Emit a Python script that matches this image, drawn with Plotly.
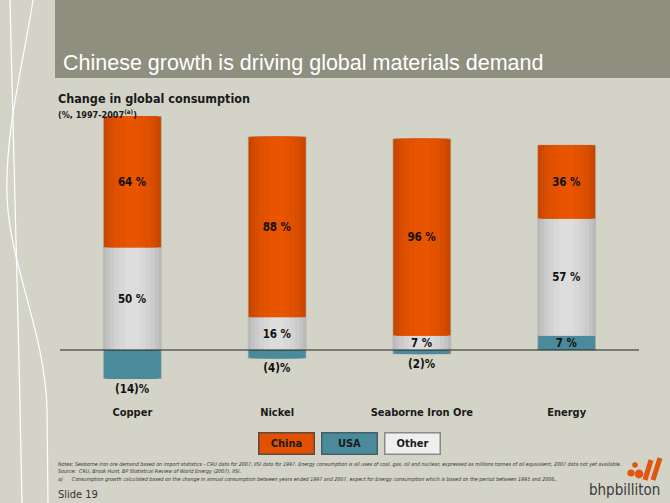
import plotly.graph_objects as go

# ---------------- data ----------------
categories = ["Copper", "Nickel", "Seaborne Iron Ore", "Energy"]
series_names = ["USA", "Other", "China"]
usa_values = [-14, -4, -2, 7]
other_values = [50, 16, 7, 57]
china_values = [64, 88, 96, 36]

title_text = "Chinese growth is driving global materials demand"
subtitle_text = "Change in global consumption"
unit_text = "(%, 1997-2007<sup>(a)</sup>)"
notes_lines = [
    "Notes: Seaborne iron ore demand based on import statistics - CRU data for 2007, IISI data for 1997. Energy consumption is all uses of coal, gas, oil and nuclear, expressed as millions tonnes of oil equivalent, 2007 data not yet available.",
    "Source:  CRU, Brook Hunt, BP Statistical Review of World Energy (2007), IISI.",
    "a)      Consumption growth calculated based on the change in annual consumption between years ended 1997 and 2007, expect for Energy consumption which is based on the period between 1995 and 2006..",
]
slide_text = "Slide 19"
logo_text = "bhpbilliton"

# ---------------- styling ----------------
W, H = 670, 503
BG = "#d3d3c8"
BAND = "#8f8f80"
ORANGE = "#e35000"
TEAL = "#4a8a9a"
NARROW = "DejaVu Sans Condensed, DejaVu Sans, sans-serif"
SANS = "Liberation Sans, Arial, sans-serif"

# cylinder-like shading: layers from outer edge to centre
layer_widths = [0.4, 0.36, 0.31, 0.25, 0.18, 0.1]
layer_colors = {
    "China": ["#c64600", "#cf4a00", "#d84d00", "#df5000", "#e45200", "#e85400"],
    "Other": ["#bababa", "#c3c3c3", "#cbcbcb", "#d2d2d2", "#d8d8d8", "#dddddd"],
    "USA": [TEAL] * 6,
}


def px(x):
    return x / W


def py(y):
    return 1 - y / H


def lab(v):
    return f"{v} %" if v >= 0 else f"({-v})%"


values = {"USA": usa_values, "Other": other_values, "China": china_values}

k = 2.05  # px per unit
y_top_px, y_bot_px, zero_px = 100, 400, 350
ymax = (zero_px - y_top_px) / k
ymin = -(y_bot_px - zero_px) / k
xdom = [px(60), px(639)]
ydom = [py(y_bot_px), py(y_top_px)]

fig = go.Figure()
n_layers = len(layer_widths)
for li in range(n_layers):
    xa = "x" if li == 0 else f"x{li + 1}"
    ya = "y" if li == 0 else f"y{li + 1}"
    top = li == n_layers - 1
    for name in series_names:
        vals = values[name]
        kw = {}
        if top:
            kw = dict(
                text=[lab(v) for v in vals],
                textposition=["outside" if v < 0 else "inside" for v in vals],
                insidetextanchor="middle",
                constraintext="none",
                textangle=0,
                textfont=dict(family=NARROW, size=11.5, color="#111111", weight="bold"),
            )
        fig.add_trace(go.Bar(
            x=categories, y=vals, name=name, xaxis=xa, yaxis=ya,
            marker=dict(color=layer_colors[name][li],
                        line=dict(color="#b4b4aa", width=0.6 if li == 0 else 0)),
            width=layer_widths[li], cliponaxis=False, showlegend=False,
            hoverinfo="skip" if not top else None,
            **kw,
        ))

# zero line in data coordinates
fig.add_shape(type="line", xref="x", yref="y", x0=-0.5, x1=3.5, y0=0, y1=0,
              line=dict(color="#222222", width=1.2), layer="above")

shapes = []
shapes.append(dict(type="rect", xref="paper", yref="paper", x0=0, x1=px(44), y0=py(78), y1=1,
                   fillcolor="#e85000", line=dict(width=0), layer="below"))
shapes.append(dict(type="rect", xref="paper", yref="paper", x0=px(55), x1=1, y0=py(78), y1=1,
                   fillcolor=BAND, line=dict(width=0), layer="below"))


def path(points_cmd):
    out = []
    for tok in points_cmd:
        if isinstance(tok, str):
            out.append(tok)
        else:
            out.append(f"{px(tok[0]):.5f},{py(tok[1]):.5f}")
    return " ".join(out)


lineA = path(["M", (33, 0), "C", (24, 60), (5, 130), (7, 195), "C", (9, 265), (45, 330), (47, 410), "L", (48, 503)])
lineB = path(["M", (10, 0), "C", (13, 120), (16, 250), (19, 360), "L", (22, 503)])
for p in (lineA, lineB):
    shapes.append(dict(type="path", xref="paper", yref="paper", path=p,
                       line=dict(color="#ffffff", width=1.2), layer="above"))

# logo marks
for cx, cy, r in [(635, 465, 2.8), (631, 473, 3.6), (639, 474, 4.4)]:
    shapes.append(dict(type="circle", xref="paper", yref="paper",
                       x0=px(cx - r), x1=px(cx + r), y0=py(cy + r), y1=py(cy - r),
                       fillcolor="#e0560e", line=dict(width=0)))
for (x0, y0, x1, y1) in [(645, 480, 651, 460), (653, 480, 660, 458)]:
    shapes.append(dict(type="line", xref="paper", yref="paper", x0=px(x0), y0=py(y0), x1=px(x1), y1=py(y1),
                       line=dict(color="#e0560e", width=5)))

annotations = []
annotations.append(dict(text=title_text, x=px(61), y=py(63), xref="paper", yref="paper",
                        xanchor="left", yanchor="middle", showarrow=False,
                        font=dict(family=SANS, size=21.5, color="#ffffff")))
annotations.append(dict(text=f"<b>{subtitle_text}</b>", x=px(56), y=py(99), xref="paper", yref="paper",
                        xanchor="left", yanchor="middle", showarrow=False,
                        font=dict(family=NARROW, size=12.5, color="#1a1a1a")))
annotations.append(dict(text=f"<b>{unit_text}</b>", x=px(56), y=py(114), xref="paper", yref="paper",
                        xanchor="left", yanchor="middle", showarrow=False,
                        font=dict(family=NARROW, size=9, color="#1a1a1a")))
for i, ln in enumerate(notes_lines):
    annotations.append(dict(text=f"<i>{ln}</i>", x=px(56), y=py(464 + i * 7.7), xref="paper", yref="paper",
                            xanchor="left", yanchor="middle", showarrow=False,
                            font=dict(family=NARROW, size=5.3, color="#333333")))
annotations.append(dict(text=slide_text, x=px(56), y=py(494), xref="paper", yref="paper",
                        xanchor="left", yanchor="middle", showarrow=False,
                        font=dict(family=NARROW, size=11, color="#333333")))
annotations.append(dict(text=logo_text, x=px(624), y=py(490), xref="paper", yref="paper",
                        xanchor="center", yanchor="middle", showarrow=False,
                        font=dict(family="DejaVu Sans Condensed, sans-serif", size=15, color="#3a3a3a")))

# legend boxes
legend_order = ["China", "USA", "Other"]
legend_style = {"China": (ORANGE, "#5a4a40"), "USA": (TEAL, "#40606a"), "Other": ("#efefef", "#8a8a8a")}
for j, name in enumerate(legend_order):
    bg, bc = legend_style[name]
    annotations.append(dict(text=f"<b>{name}</b>", x=px(286 + j * 63), y=py(443), xref="paper", yref="paper",
                            xanchor="center", yanchor="middle", showarrow=False,
                            width=52, height=18, bgcolor=bg, bordercolor=bc, borderwidth=1.5, borderpad=1,
                            font=dict(family=NARROW, size=11, color="#1a1a1a")))

layout_axes = {}
layout_axes["xaxis"] = dict(domain=xdom, range=[-0.5, 3.5], showgrid=False, zeroline=False,
                            showline=False, ticks="", ticklabelstandoff=4,
                            tickfont=dict(family=NARROW, size=11, color="#1a1a1a", weight="bold"),
                            anchor="y")
layout_axes["yaxis"] = dict(domain=ydom, range=[ymin, ymax], showgrid=False, zeroline=False,
                            showticklabels=False, showline=False)
for li in range(1, n_layers):
    layout_axes[f"xaxis{li + 1}"] = dict(domain=xdom, range=[-0.5, 3.5], overlaying="x", visible=False,
                                         anchor=f"y{li + 1}")
    layout_axes[f"yaxis{li + 1}"] = dict(domain=ydom, range=[ymin, ymax], overlaying="y", visible=False,
                                         anchor=f"x{li + 1}")

fig.update_layout(
    width=W, height=H,
    margin=dict(l=0, r=0, t=0, b=0),
    paper_bgcolor=BG, plot_bgcolor=BG,
    barmode="relative",
    shapes=shapes,
    annotations=annotations,
    showlegend=False,
    **layout_axes,
)

fig.write_html("out.html", config={"displayModeBar": False})

# remove the default page margin so the figure fills the window exactly
with open("out.html", "r", encoding="utf-8") as f:
    html = f.read()
html = html.replace("<head>", "<head><style>html,body{margin:0;padding:0;overflow:hidden;}</style>", 1)
with open("out.html", "w", encoding="utf-8") as f:
    f.write(html)
